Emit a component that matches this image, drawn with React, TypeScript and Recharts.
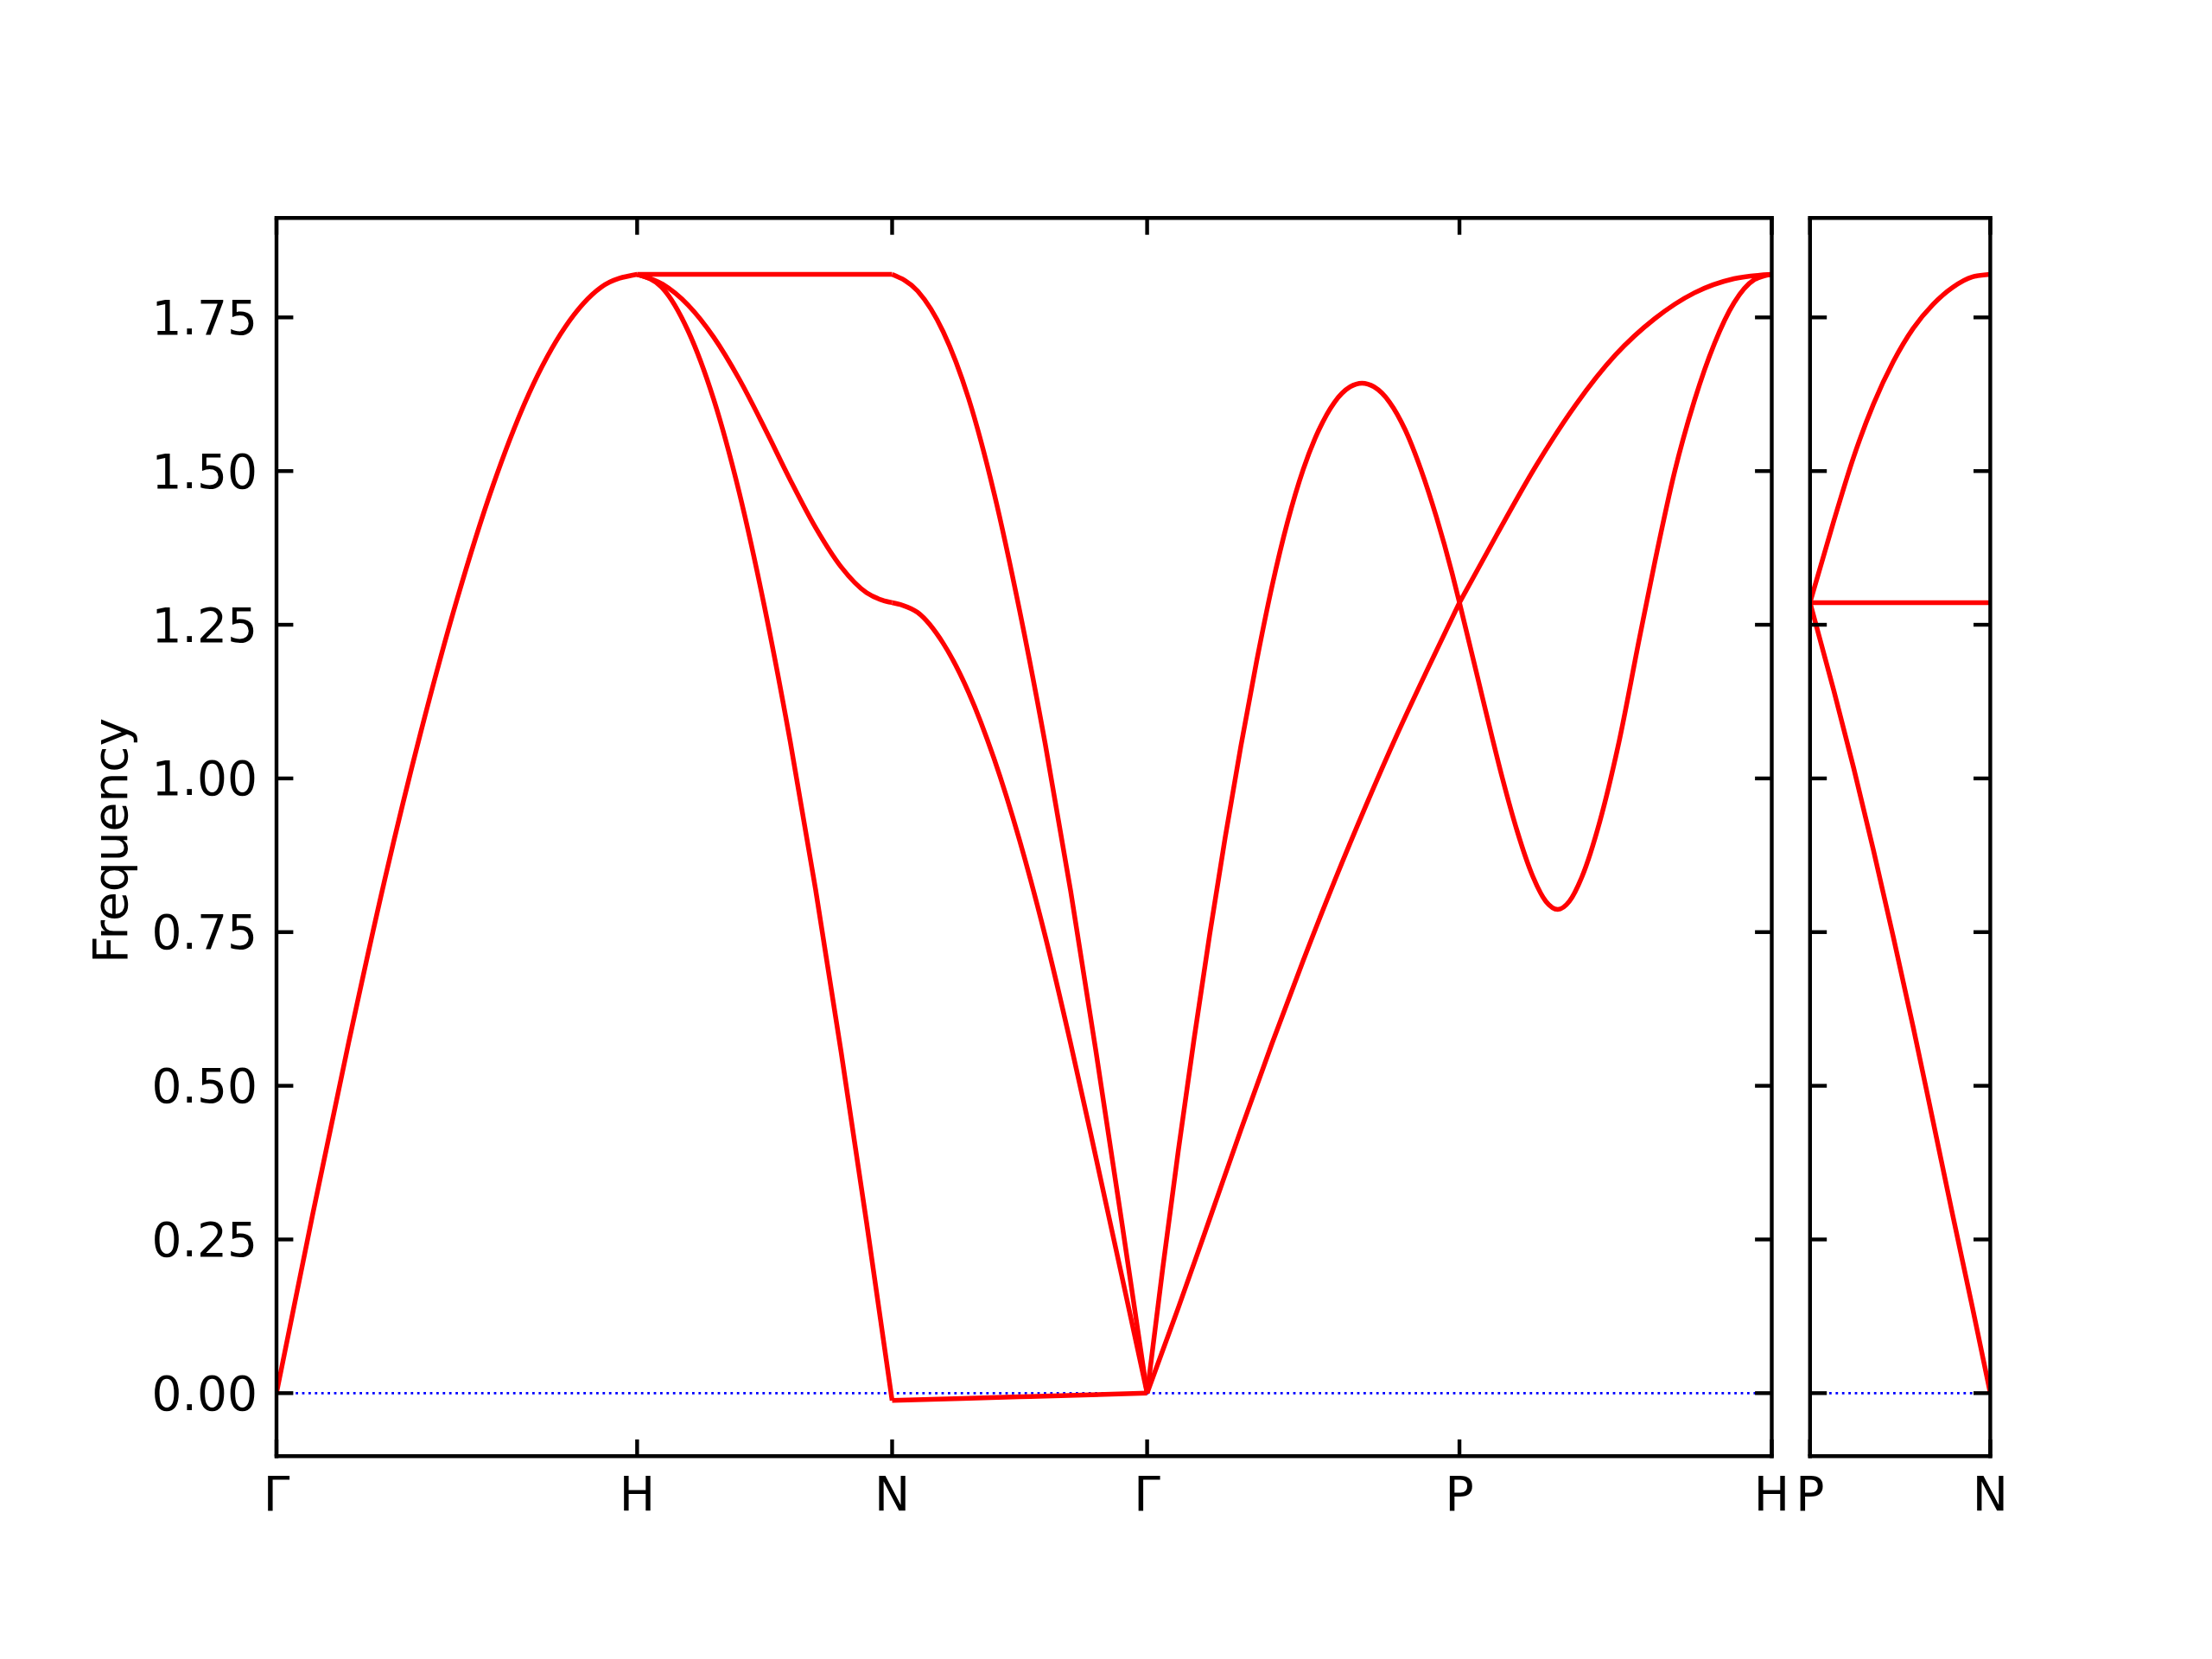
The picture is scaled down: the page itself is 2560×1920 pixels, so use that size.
import React from "react"
import { LineChart, Line, XAxis, YAxis, ReferenceLine } from "recharts"

// high-symmetry points along the path (distance in 2pi/a)
const pathTicks = [0, 1, 1.7071, 2.4142, 3.2803, 4.1463]
const pathLabels = ["Γ", "H", "N", "Γ", "P", "H"]
const sideTicks = [0, 0.5]
const sideLabels = ["P", "N"]
const freqTicks = [0, 0.25, 0.5, 0.75, 1, 1.25, 1.5, 1.75]

// bands as [k, frequency]
const gammaH = [[0, 0], [0.1, 0.29], [0.2, 0.57], [0.3, 0.835], [0.4, 1.075], [0.5, 1.29], [0.6, 1.476], [0.7, 1.626], [0.8, 1.734], [0.9, 1.799], [1, 1.82]]
const hnFlat = [[1, 1.82], [1.7071, 1.82]]
const hnMid = [[1, 1.82], [1.0707, 1.804], [1.1414, 1.77], [1.2121, 1.718], [1.2828, 1.65], [1.3536, 1.57], [1.4243, 1.486], [1.495, 1.408], [1.5657, 1.344], [1.6364, 1.302], [1.68, 1.29], [1.7071, 1.286]]
const hnLow = [[1, 1.82], [1.0707, 1.7975], [1.1414, 1.728], [1.2121, 1.617], [1.2828, 1.466], [1.3536, 1.278], [1.4243, 1.061], [1.495, 0.819], [1.5657, 0.555], [1.6364, 0.277], [1.7071, -0.012]]
const ngTop = [[1.7071, 1.82], [1.7778, 1.793], [1.8485, 1.727], [1.9192, 1.618], [1.9899, 1.464], [2.0607, 1.273], [2.1314, 1.057], [2.2021, 0.817], [2.2728, 0.554], [2.3435, 0.28], [2.4142, 0]]
const ngMid = [[1.7071, 1.286], [1.735, 1.282], [1.7778, 1.27], [1.8485, 1.22], [1.9192, 1.14], [1.9899, 1.032], [2.0607, 0.899], [2.1314, 0.744], [2.2021, 0.569], [2.2728, 0.382], [2.3435, 0.192], [2.4142, 0]]
const ngLow = [[1.7071, -0.012], [2.06, -0.006], [2.4142, 0]]
const gpPeak = [[2.4142, 0], [2.4575, 0.203], [2.5008, 0.395], [2.5441, 0.575], [2.5874, 0.745], [2.6307, 0.904], [2.674, 1.052], [2.7173, 1.189], [2.7606, 1.313], [2.8039, 1.418], [2.8472, 1.503], [2.8905, 1.567], [2.9338, 1.612], [2.9771, 1.637], [3.01, 1.643], [3.0433, 1.637], [3.0866, 1.612], [3.1299, 1.567], [3.1732, 1.503], [3.2165, 1.425], [3.2598, 1.334], [3.2803, 1.286]]
const gpLine = [[2.4142, 0], [2.5008, 0.139], [2.5874, 0.283], [2.674, 0.428], [2.7606, 0.569], [2.8472, 0.704], [2.9338, 0.833], [3.0204, 0.955], [3.107, 1.071], [3.1937, 1.18], [3.2803, 1.286]]
const phDip = [[3.2803, 1.286], [3.33, 1.166], [3.37, 1.069], [3.4, 0.999], [3.44, 0.915], [3.48, 0.846], [3.52, 0.8], [3.553, 0.787], [3.585, 0.8], [3.62, 0.84], [3.67, 0.931], [3.72, 1.052], [3.78, 1.23], [3.822, 1.352], [3.877, 1.499], [3.932, 1.615], [3.987, 1.707], [4.042, 1.774], [4.097, 1.811], [4.1463, 1.82]]
const phRise = [[3.2803, 1.286], [3.382, 1.3945], [3.492, 1.508], [3.603, 1.608], [3.713, 1.689], [3.822, 1.748], [3.932, 1.79], [4.042, 1.813], [4.1463, 1.82]]

// P-N branch on the right
const pnRise = [[0, 1.286], [0.066, 1.419], [0.121, 1.523], [0.176, 1.609], [0.231, 1.678], [0.286, 1.732], [0.341, 1.771], [0.396, 1.799], [0.451, 1.816], [0.5, 1.82]]
const pnFlat = [[0, 1.286], [0.5, 1.286]]
const pnFall = [[0, 1.286], [0.066, 1.143], [0.121, 1.017], [0.176, 0.883], [0.231, 0.742], [0.286, 0.596], [0.341, 0.443], [0.396, 0.289], [0.451, 0.138], [0.5, 0]]

const leftBands = [gammaH, hnFlat, hnMid, hnLow, ngTop, ngMid, ngLow, gpPeak, gpLine, phDip, phRise]
const rightBands = [pnRise, pnFlat, pnFall]

const yDomain = [-0.1026, 1.9117]
const font = { fontSize: 55, fontFamily: "DejaVu Sans", fill: "#000" }
const spine = { stroke: "#000", strokeWidth: 4.4, strokeLinecap: "square" as const }
const tickLn = { stroke: "#000", strokeWidth: 4.4 }
const TS = -19.4
const blank = () => ""

const pts = (band: number[][]) => band.map(([k, f]) => ({ k, f }))

function bandLines(bands: number[][][]) {
  return bands.map((b, i) => (
    <Line
      key={i}
      data={pts(b)}
      dataKey="f"
      type="monotone"
      stroke="#ff0000"
      strokeWidth={5.5}
      dot={false}
      activeDot={false}
      isAnimationActive={false}
    />
  ))
}

function zeroLine() {
  return <ReferenceLine y={0} stroke="#0000ff" strokeWidth={2.8} strokeDasharray="2.8 4.6" />
}

export default function App() {
  return (
    <div style={{ position: "absolute", left: 0, top: 0, width: 2560, height: 1920, background: "#fff" }}>
      <div style={{ position: "absolute", left: 0, top: 0 }}>
        <LineChart width={2560} height={1920} margin={{ top: 242.3, right: 499.5, bottom: 134.7, left: 0 }}>
          <XAxis dataKey="k" type="number" domain={[0, 4.1463]} ticks={pathTicks} allowDataOverflow interval={0}
            tickFormatter={(v: number) => pathLabels[pathTicks.indexOf(v)]} height={100}
            axisLine={spine} tickLine={tickLn} tickSize={TS} tickMargin={43.1} tick={font} />
          <XAxis xAxisId="top" orientation="top" dataKey="k" type="number" domain={[0, 4.1463]} ticks={pathTicks}
            allowDataOverflow interval={0} tickFormatter={blank} height={10}
            axisLine={spine} tickLine={tickLn} tickSize={TS} />
          <YAxis type="number" domain={yDomain} ticks={freqTicks} allowDataOverflow interval={0} width={320}
            tickFormatter={(v: number) => v.toFixed(2)}
            axisLine={spine} tickLine={tickLn} tickSize={TS} tickMargin={41.4} tick={font} />
          <YAxis yAxisId="right" orientation="right" type="number" domain={yDomain} ticks={freqTicks}
            allowDataOverflow interval={0} width={10} tickFormatter={blank}
            axisLine={spine} tickLine={tickLn} tickSize={TS} />
          {zeroLine()}
          {bandLines(leftBands)}
        </LineChart>
      </div>
      <div style={{ position: "absolute", left: 0, top: 0 }}>
        <LineChart width={2560} height={1920} margin={{ top: 242.3, right: 246.6, bottom: 134.7, left: 2084.8 }}>
          <XAxis dataKey="k" type="number" domain={[0, 0.5]} ticks={sideTicks} allowDataOverflow interval={0}
            tickFormatter={(v: number) => sideLabels[sideTicks.indexOf(v)]} height={100}
            axisLine={spine} tickLine={tickLn} tickSize={TS} tickMargin={43.1} tick={font} />
          <XAxis xAxisId="top" orientation="top" dataKey="k" type="number" domain={[0, 0.5]} ticks={sideTicks}
            allowDataOverflow interval={0} tickFormatter={blank} height={10}
            axisLine={spine} tickLine={tickLn} tickSize={TS} />
          <YAxis type="number" domain={yDomain} ticks={freqTicks} allowDataOverflow interval={0} width={10}
            tickFormatter={blank} axisLine={spine} tickLine={tickLn} tickSize={TS} />
          <YAxis yAxisId="right" orientation="right" type="number" domain={yDomain} ticks={freqTicks}
            allowDataOverflow interval={0} width={10} tickFormatter={blank}
            axisLine={spine} tickLine={tickLn} tickSize={TS} />
          {zeroLine()}
          {bandLines(rightBands)}
        </LineChart>
      </div>
      <svg width={2560} height={1920} style={{ position: "absolute", left: 0, top: 0, pointerEvents: "none" }}>
        <text x={146.7} y={973} transform="rotate(-90 146.7 973)" textAnchor="middle"
          fontSize={55} fontFamily="DejaVu Sans" fill="#000">Frequency</text>
      </svg>
    </div>
  )
}
